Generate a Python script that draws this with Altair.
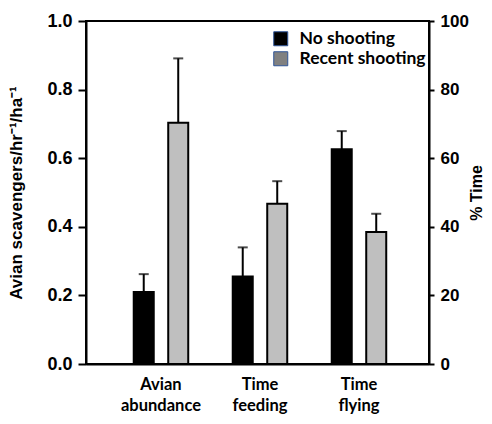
import altair as alt
import pandas as pd

categories = ["Avian abundance", "Time feeding", "Time flying"]
conditions = ["No shooting", "Recent shooting"]

# Avian abundance (left axis, scavengers/hr/ha)
abund_measure = ["Avian abundance", "Avian abundance"]
abund_condition = ["No shooting", "Recent shooting"]
abund_mean = [0.21, 0.703]
abund_upper = [0.262, 0.891]

# Time budget (right axis, % time)
time_measure = ["Time feeding", "Time feeding", "Time flying", "Time flying"]
time_condition = ["No shooting", "Recent shooting", "No shooting", "Recent shooting"]
time_mean = [25.5, 46.7, 62.6, 38.5]
time_upper = [34.0, 53.3, 67.9, 43.8]

left_ticks = [0, 0.2, 0.4, 0.6, 0.8, 1.0]
right_ticks = [0, 20, 40, 60, 80, 100]

bar_colors = ["#000000", "#bfbfbf"]
legend_colors = ["#000000", "#808080"]

df_a = pd.DataFrame({"Measure": abund_measure, "Condition": abund_condition,
                     "Mean": abund_mean, "Upper": abund_upper})
df_t = pd.DataFrame({"Measure": time_measure, "Condition": time_condition,
                     "Mean": time_mean, "Upper": time_upper})

LBL = "Liberation Sans"
CAT = "Lato"

x_enc = alt.X("Measure:N", sort=categories,
              scale=alt.Scale(domain=categories, paddingInner=0, paddingOuter=0.2323, align=0.554),
              axis=alt.Axis(title=None, labelAngle=0, ticks=False, labelExpr="split(datum.label, ' ')",
                            labelFont=CAT, labelFontWeight="bold", labelFontSize=16.5,
                            labelLineHeight=21, labelPadding=12, labelColor="black",
                            domainColor="black", domainWidth=2))
xo_enc = alt.XOffset("Condition:N", scale=alt.Scale(domain=conditions, paddingInner=0.42, paddingOuter=0.645))
color_enc = alt.Color("Condition:N", scale=alt.Scale(domain=conditions, range=bar_colors), legend=None)


def block(df, y_scale, y_axis):
    base = alt.Chart(df)
    y = alt.Y("Mean:Q", scale=y_scale, axis=y_axis)
    bars = base.mark_bar(stroke="black", strokeWidth=2).encode(x=x_enc, xOffset=xo_enc, y=y, color=color_enc)
    err = base.mark_rule(color="black", strokeWidth=2).encode(x=x_enc, xOffset=xo_enc, y=y, y2="Upper:Q")
    cap = base.mark_tick(color="black", thickness=2, size=10, orient="horizontal").encode(
        x=x_enc, xOffset=xo_enc, y=alt.Y("Upper:Q", scale=y_scale, axis=y_axis))
    return alt.layer(bars, err, cap)


left_axis = alt.Axis(values=left_ticks, format=".1f", title="Avian scavengers/hr⁻¹/ha⁻¹", grid=False,
                     labelFont=LBL, labelFontWeight="bold", labelFontSize=18, labelColor="black",
                     labelPadding=6, tickSize=8, tickWidth=2, tickColor="black",
                     domainColor="black", domainWidth=2,
                     titleFont=LBL, titleFontWeight="bold", titleFontSize=17, titleColor="black",
                     titlePadding=21)
right_axis = alt.Axis(values=right_ticks, format="d", title="% Time", orient="right", grid=False,
                      labelFont=LBL, labelFontWeight="bold", labelFontSize=17, labelColor="black",
                      labelPadding=6, tickSize=5, tickWidth=2, tickColor="black",
                      domainColor="black", domainWidth=2,
                      titleFont=LBL, titleFontWeight="bold", titleFontSize=16, titleColor="black",
                      titlePadding=0, titleAngle=270, titleBaseline="top")

left = block(df_a, alt.Scale(domain=[0, 1], nice=False), left_axis)
right = block(df_t, alt.Scale(domain=[0, 100], nice=False), right_axis)

legend_layer = alt.Chart(df_a).mark_square(opacity=0, filled=True).encode(
    x=x_enc, xOffset=xo_enc,
    color=alt.Color("Condition:N", scale=alt.Scale(domain=conditions, range=legend_colors),
                    legend=alt.Legend(title=None, orient="none", legendX=186, legendY=9,
                                      symbolType="square", symbolSize=196, padding=0,
                                      symbolOpacity=1, symbolStrokeWidth=1, symbolStrokeColor="#2f5597",
                                      labelFont=CAT, labelFontWeight="bold",
                                      labelFontSize=17.5, labelColor="black", labelOffset=10,
                                      rowPadding=1)))

chart = alt.layer(left, right, legend_layer).resolve_scale(y="independent", color="independent").properties(
    width=343, height=343,
    autosize=alt.AutoSizeParams(type="none"),
    padding={"left": 78, "top": 13, "right": 55, "bottom": 52},
).configure_view(stroke="black", strokeWidth=2)

chart.save("out.html", embed_options={"renderer": "svg", "actions": False})
